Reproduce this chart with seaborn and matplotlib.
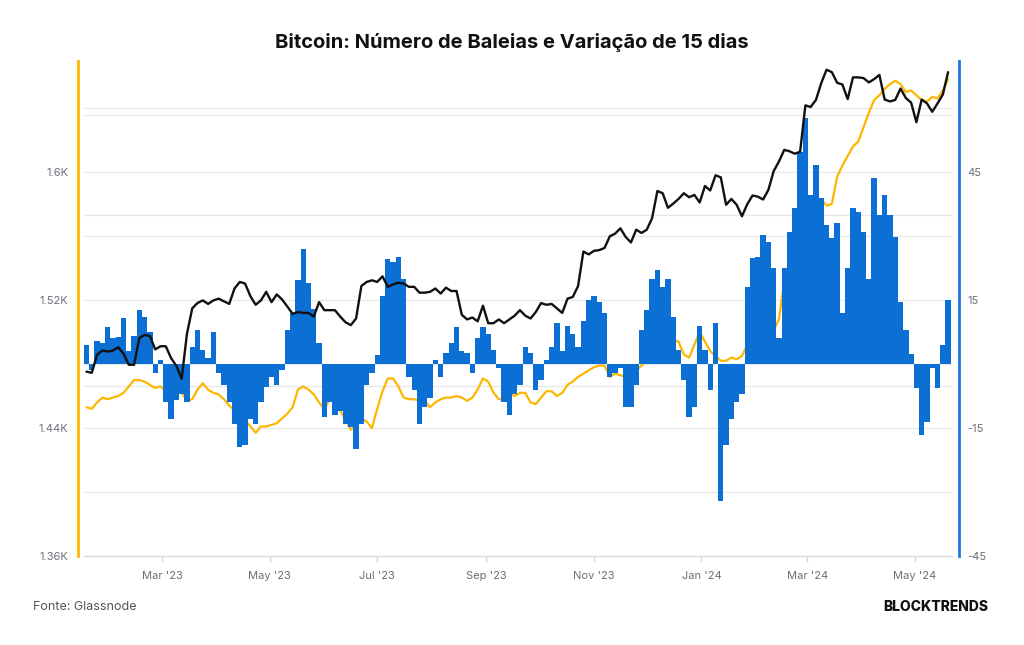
import matplotlib
matplotlib.use('Agg')
import matplotlib.pyplot as plt
import matplotlib.dates as mdates
import matplotlib.ticker as mticker
import numpy as np
import pandas as pd
import seaborn as sns

# dados (amostra a cada 3 dias)
dates = pd.date_range('2023-01-17', periods=164, freq='3D')

# número de baleias (eixo esquerdo)
whales = [1453, 1452, 1456, 1459, 1458, 1459, 1460, 1462, 1466, 1470,
          1470, 1469, 1467, 1465, 1466, 1463, 1463, 1465, 1462, 1457,
          1458, 1464, 1468, 1464, 1462, 1461, 1458, 1454, 1451, 1448,
          1445, 1441, 1437, 1441, 1441, 1442, 1443, 1446, 1449, 1453,
          1464, 1466, 1464, 1461, 1456, 1452, 1458, 1457, 1451, 1445,
          1439, 1441, 1446, 1444, 1440, 1452, 1463, 1471, 1471, 1466,
          1459, 1458, 1458, 1457, 1457, 1453, 1456, 1458, 1459, 1459,
          1460, 1459, 1457, 1459, 1464, 1471, 1469, 1462, 1458, 1458,
          1462, 1460, 1462, 1462, 1456, 1455, 1459, 1463, 1463, 1460,
          1462, 1467, 1469, 1472, 1474, 1476, 1478, 1479, 1479, 1472,
          1474, 1473, 1472, 1474, 1476, 1479, 1483, 1485, 1488, 1490,
          1492, 1495, 1494, 1486, 1484, 1492, 1500, 1494, 1488, 1485,
          1482, 1482, 1484, 1483, 1485, 1492, 1498, 1504, 1509, 1507,
          1501, 1508, 1532, 1545, 1550, 1557, 1564, 1570, 1572, 1583,
          1579, 1580, 1597, 1604, 1610, 1616, 1619, 1628, 1637, 1645,
          1648, 1652, 1655, 1657, 1655, 1650, 1651, 1648, 1645, 1644,
          1647, 1646, 1651, 1658]

# variação de 15 dias (eixo direito)
change_15d = [4.5, -1.4, 5.5, 5, 8.7, 6, 6.3, 10.8, 3, 6.5,
              12.6, 11, 7.5, -2, 1, -9, -13, -8.4, -7, -9,
              4, 8, 3.3, 1.5, 7.5, -2, -5, -9, -14, -19.5,
              -19, -13, -14, -9, -5.3, -3, -5, -1.5, 8, 12,
              19.6, 27, 19, 13, 5, -12.4, -9, -12, -11, -14,
              -14.8, -20, -14, -5, -2, 2, 16, 24.6, 24, 25,
              20, -3, -6, -14, -10, -8, 1, -3, 2.5, 5,
              8.7, 3, 2.5, -2, 6, 8.7, 7, 3.3, -1, -9,
              -12, -7, -5, 4, 2.5, -6, -3.7, 1, 4, 9.5,
              3, 9, 7, 4, 10, 15, 16, 14.5, 12, -3,
              -2, -1, -10, -10, -5, 8, 12.6, 20, 22, 18,
              20, 11, 3.3, -3.7, -12.4, -10, 9, 3.3, -6, 9.5,
              -32, -19, -13, -9, -7, 18, 24.8, 25, 30.2, 28.6,
              22.5, 6, 22.5, 31, 36.5, 49.7, 57.6, 39.6, 46.6, 39,
              32.6, 29.5, 33, 12, 22.5, 36.5, 35.6, 31, 20, 43.6,
              35, 39.6, 35, 29.8, 14.5, 8, 2.3, -5.6, -16.6, -13.6,
              -1, -5.6, 4.5, 15]

# preço do bitcoin em milhares de USD (escala log, sem eixo)
btc_k = [21.2, 21.1, 22.7, 23.1, 23.0, 23.1, 23.4, 22.8, 21.8, 21.8,
         24.3, 24.6, 24.5, 23.2, 23.5, 23.5, 22.4, 21.7, 20.6, 24.7,
         27.4, 28.0, 28.3, 27.9, 28.3, 28.5, 28.2, 27.9, 29.7, 30.5,
         30.3, 28.8, 27.8, 28.3, 29.3, 28.1, 29.0, 28.4, 27.6, 26.8,
         27.0, 26.9, 26.9, 26.5, 28.1, 27.2, 27.2, 27.2, 26.5, 25.9,
         25.6, 26.3, 30.0, 30.5, 30.7, 30.5, 31.2, 29.9, 30.2, 30.4,
         30.3, 29.9, 29.9, 29.2, 29.2, 29.3, 29.7, 29.1, 29.8, 29.4,
         29.4, 26.7, 26.2, 26.4, 26.0, 27.7, 25.8, 25.8, 26.2, 25.8,
         26.2, 26.6, 27.2, 26.6, 26.3, 27.0, 28.0, 27.8, 27.9, 27.4,
         26.9, 28.5, 28.7, 30.0, 34.5, 34.1, 34.6, 34.7, 35.0, 36.7,
         37.1, 37.9, 36.6, 35.8, 37.7, 37.2, 37.7, 39.5, 44.1, 43.7,
         41.2, 41.9, 42.7, 43.7, 43.0, 43.4, 42.1, 45.0, 44.2, 47.0,
         46.6, 41.7, 42.7, 41.7, 39.8, 41.8, 43.3, 43.1, 42.6, 44.3,
         47.8, 49.7, 52.1, 51.8, 51.3, 51.7, 62.4, 62.0, 63.8, 68.3,
         72.1, 71.4, 68.4, 67.9, 64.0, 69.9, 69.9, 69.7, 68.5, 69.4,
         70.6, 63.9, 63.4, 63.8, 66.8, 64.3, 63.1, 58.3, 63.9, 62.9,
         60.8, 62.9, 65.2, 71.4]

left_ticks = [1360, 1440, 1520, 1600]
left_minor = [1400, 1480, 1560, 1640]
right_ticks = [-45, -15, 15, 45]
price_grid = [20000, 40000, 60000]
month_ticks = ['2023-03-01', '2023-05-01', '2023-07-01', '2023-09-01',
               '2023-11-01', '2024-01-01', '2024-03-01', '2024-05-01']

YELLOW = '#FDB700'
BLUE = '#0B6FD3'
GRID = '#E8E8EC'
TICK = '#6E6E78'

sns.set_theme(style='white')
plt.rcParams['font.family'] = ['Inter', 'DejaVu Sans']
plt.rcParams['axes.unicode_minus'] = False

fig = plt.figure(figsize=(10.24, 6.45), dpi=100)
fig.patch.set_facecolor('white')
ax = fig.add_axes([84 / 1024, 1 - 556 / 645, (952 - 84) / 1024, (556 - 61) / 645])
ax_grid = ax.twinx()   # grade do preço (atrás de tudo)
ax_bar = ax.twinx()    # barras da variação
ax_btc = ax.twinx()    # linha do preço

for z, a in enumerate([ax_grid, ax, ax_bar, ax_btc]):
    a.set_zorder(z)
    a.patch.set_visible(False)

# linha amarela - baleias
sns.lineplot(x=dates, y=whales, ax=ax, color=YELLOW, linewidth=1.6)
ax.set_ylim(1360, 1669.4)
ax.set_yticks(left_ticks)
ax.set_yticks(left_minor, minor=True)
ax.yaxis.set_major_formatter(mticker.FuncFormatter(lambda v, p: f"{v / 1000:g}K"))
ax.grid(axis='y', which='both', color=GRID, linewidth=1)
ax.grid(axis='x', visible=False)
ax.tick_params(axis='y', which='both', length=0, pad=7, labelsize=8, labelcolor=TICK)

# barras azuis - variação de 15 dias
ax_bar.bar(dates, change_15d, width=3.05, color=BLUE, linewidth=0)
ax_bar.set_ylim(-45, 71)
ax_bar.set_yticks(right_ticks)
ax_bar.grid(False)
ax_bar.tick_params(axis='y', length=0, pad=6, labelsize=8, labelcolor=TICK)

# linha preta - preço
btc = np.array(btc_k) * 1000
sns.lineplot(x=dates, y=btc, ax=ax_btc, color='#111111', linewidth=1.7)
for a in (ax_btc, ax_grid):
    a.set_yscale('log')
    a.set_ylim(10040, 74700)
    a.yaxis.set_minor_locator(mticker.NullLocator())
ax_btc.set_yticks([])
ax_btc.grid(False)
ax_grid.set_yticks(price_grid)
ax_grid.yaxis.set_ticklabels([])
ax_grid.tick_params(axis='y', length=0)
ax_grid.grid(axis='y', which='major', color=GRID, linewidth=1)

# eixo x
ax.set_xlim(pd.Timestamp('2023-01-15 14:00'), pd.Timestamp('2024-05-22 05:00'))
ax.set_xticks(pd.to_datetime(month_ticks))
ax.xaxis.set_major_formatter(mdates.DateFormatter("%b '%y"))
ax.tick_params(axis='x', length=4, width=1, color='#D8D8DC', pad=7,
               labelsize=8, labelcolor=TICK, bottom=True)

for a in (ax, ax_grid, ax_bar, ax_btc):
    a.set_xlabel('')
    a.set_ylabel('')
    for s in a.spines.values():
        s.set_visible(False)

ax.spines['left'].set_visible(True)
ax.spines['left'].set_color(YELLOW)
ax.spines['left'].set_linewidth(2)
ax.spines['left'].set_position(('outward', 4))
ax.spines['bottom'].set_visible(True)
ax.spines['bottom'].set_color('#DDDDE0')
ax.spines['bottom'].set_linewidth(1)
ax_bar.spines['right'].set_visible(True)
ax_bar.spines['right'].set_color('#1E78DC')
ax_bar.spines['right'].set_linewidth(2)
ax_bar.spines['right'].set_position(('outward', 5))

# textos
fig.text(0.5, 1 - 43 / 645, 'Bitcoin: Número de Baleias e Variação de 15 dias',
         ha='center', va='center', fontsize=14.5, fontweight='bold', color='#111111')
fig.text(33 / 1024, 1 - 607 / 645, 'Fonte: Glassnode', ha='left', va='center',
         fontsize=9, color='#555555')
fig.text(988 / 1024, 1 - 607 / 645, 'BLOCKTRENDS', ha='right', va='center',
         fontsize=10, fontweight='heavy', color='#111111')

fig.savefig('out.png', dpi=100)
